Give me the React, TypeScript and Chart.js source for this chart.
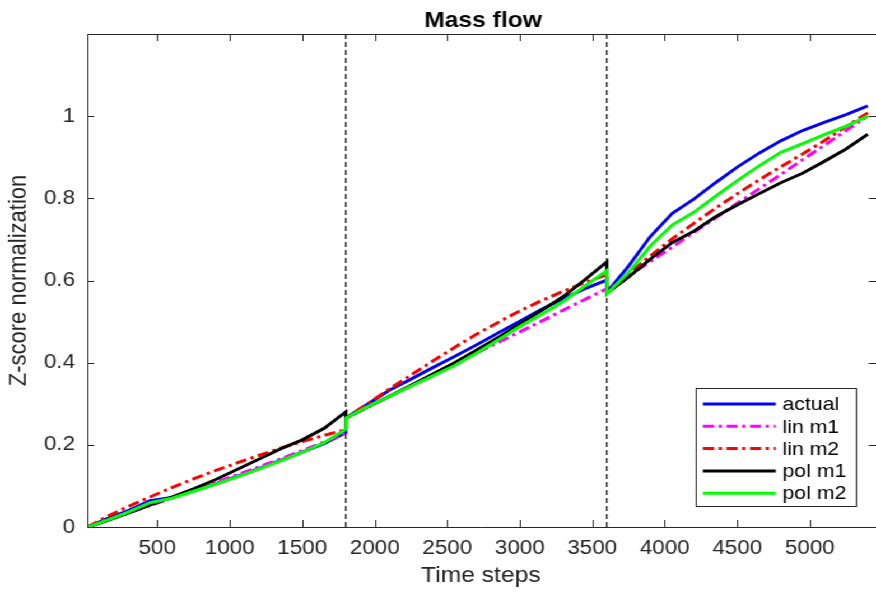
import React, { useEffect, useRef } from "react";
import { Chart, registerables } from "chart.js";

Chart.register(...registerables);

// ---- data ----
const timeSteps = [
  20, 150, 300, 450, 600, 750, 900, 1050, 1200, 1350, 1500, 1650, 1800,
  1800, 1950, 2100, 2250, 2400, 2550, 2700, 2850, 3000, 3150, 3300, 3450, 3600,
  3600, 3750, 3900, 4050, 4200, 4350, 4500, 4650, 4800, 4950, 5100, 5250, 5400,
];

const actual = [
  0, 0.02, 0.04, 0.064, 0.072, 0.088, 0.105, 0.123, 0.142, 0.162, 0.182, 0.203, 0.23,
  0.265, 0.299, 0.333, 0.36, 0.388, 0.415, 0.443, 0.472, 0.501, 0.53, 0.556, 0.58, 0.601,
  0.571, 0.635, 0.707, 0.763, 0.798, 0.838, 0.876, 0.91, 0.94, 0.965, 0.985, 1.004, 1.025,
];

const linM1 = [
  0, 0.016, 0.034, 0.052, 0.07, 0.089, 0.108, 0.127, 0.146, 0.166, 0.186, 0.207, 0.228,
  0.265, 0.291, 0.318, 0.344, 0.37, 0.396, 0.423, 0.449, 0.475, 0.501, 0.528, 0.554, 0.58,
  0.575, 0.61, 0.646, 0.681, 0.717, 0.752, 0.788, 0.823, 0.858, 0.894, 0.929, 0.965, 1.0,
];

const linM2 = [
  0, 0.025, 0.05, 0.073, 0.096, 0.117, 0.137, 0.156, 0.174, 0.192, 0.208, 0.223, 0.237,
  0.265, 0.3, 0.336, 0.37, 0.404, 0.437, 0.469, 0.498, 0.526, 0.551, 0.574, 0.595, 0.614,
  0.57, 0.616, 0.66, 0.701, 0.739, 0.776, 0.811, 0.845, 0.877, 0.908, 0.94, 0.975, 1.008,
];

const polM1 = [
  0, 0.015, 0.034, 0.053, 0.073, 0.093, 0.115, 0.14, 0.165, 0.19, 0.212, 0.24, 0.28,
  0.265, 0.292, 0.318, 0.345, 0.372, 0.4, 0.43, 0.461, 0.495, 0.527, 0.561, 0.602, 0.645,
  0.569, 0.608, 0.652, 0.692, 0.72, 0.755, 0.784, 0.811, 0.838, 0.861, 0.89, 0.92, 0.956,
];

const polM2 = [
  0, 0.016, 0.036, 0.059, 0.07, 0.087, 0.104, 0.122, 0.141, 0.161, 0.182, 0.205, 0.238,
  0.265, 0.293, 0.318, 0.343, 0.368, 0.393, 0.423, 0.455, 0.488, 0.518, 0.549, 0.587, 0.624,
  0.567, 0.62, 0.684, 0.735, 0.766, 0.805, 0.843, 0.879, 0.912, 0.933, 0.955, 0.976, 1.0,
];

const xTicks = [500, 1000, 1500, 2000, 2500, 3000, 3500, 4000, 4500, 5000];
const yTicks = [0, 0.2, 0.4, 0.6, 0.8, 1];
const breakSteps = [1800, 3600];

const FONT = '"Liberation Sans", Arial, Helvetica, sans-serif';
const INNER_W = 782;
const STRETCH = 876 / INNER_W;
const AXIS_COLOR = "#262626";

const framePlugin = {
  id: "matlabFrame",
  afterDatasetsDraw(chart: any) {
    const { ctx, chartArea, scales } = chart;
    const { left, right, top, bottom } = chartArea;
    const xs = scales.x;
    const ys = scales.y;
    ctx.save();
    ctx.strokeStyle = AXIS_COLOR;
    ctx.lineWidth = 1;
    ctx.setLineDash([]);
    ctx.beginPath();
    ctx.moveTo(left, bottom + 0.5);
    ctx.lineTo(right + 2, bottom + 0.5);
    ctx.moveTo(left, top + 0.5);
    ctx.lineTo(right + 2, top + 0.5);
    ctx.moveTo(left + 0.5, top);
    ctx.lineTo(left + 0.5, bottom + 1);
    for (const v of xTicks) {
      const px = Math.round(xs.getPixelForValue(v)) + 0.5;
      ctx.moveTo(px, bottom);
      ctx.lineTo(px, bottom - 7);
      ctx.moveTo(px, top);
      ctx.lineTo(px, top + 7);
    }
    for (const v of yTicks) {
      const py = Math.round(ys.getPixelForValue(v)) + 0.5;
      ctx.moveTo(left, py);
      ctx.lineTo(left + 6, py);
      ctx.moveTo(right + 2, py);
      ctx.lineTo(right - 5, py);
    }
    ctx.stroke();
    ctx.restore();
  },
};

const textPlugin = {
  id: "matlabTexts",
  afterDraw(chart: any) {
    const { ctx, chartArea } = chart;
    const cx = (chartArea.left + chartArea.right) / 2;
    const cy = (chartArea.top + chartArea.bottom) / 2;
    ctx.save();
    ctx.fillStyle = "#000000";
    ctx.textAlign = "center";
    ctx.textBaseline = "alphabetic";
    ctx.font = `bold 22px ${FONT}`;
    ctx.fillText("Mass flow", cx + 2, 27);
    ctx.fillStyle = AXIS_COLOR;
    ctx.font = `22px ${FONT}`;
    ctx.fillText("Time steps", cx, 582);
    ctx.translate(22.5, cy);
    ctx.rotate(-Math.PI / 2);
    ctx.fillText("Z-score normalization", 0, 0);
    ctx.restore();
  },
};

const legendPlugin = {
  id: "matlabLegend",
  afterDraw(chart: any) {
    const { ctx } = chart;
    const items = chart.data.datasets.filter((d: any) => d.label);
    const boxL = 621;
    const boxR = 764;
    const boxT = 388.5;
    const boxB = 506.5;
    const firstY = 404;
    const step = 22.3;
    ctx.save();
    ctx.fillStyle = "#ffffff";
    ctx.fillRect(boxL, boxT, boxR - boxL, boxB - boxT);
    ctx.strokeStyle = AXIS_COLOR;
    ctx.lineWidth = 1;
    ctx.setLineDash([]);
    ctx.strokeRect(boxL + 0.5, boxT, boxR - boxL, boxB - boxT);
    ctx.font = `19px ${FONT}`;
    ctx.textAlign = "left";
    ctx.textBaseline = "middle";
    items.forEach((d: any, i: number) => {
      const yy = firstY + i * step;
      ctx.beginPath();
      ctx.strokeStyle = d.borderColor;
      ctx.lineWidth = 3;
      ctx.setLineDash(d.borderDash || []);
      ctx.moveTo(627.5, yy);
      ctx.lineTo(692.5, yy);
      ctx.stroke();
      ctx.setLineDash([]);
      ctx.fillStyle = "#000000";
      ctx.fillText(d.label, 698.5, yy + 1);
    });
    ctx.restore();
  },
};

export default function App() {
  const canvasRef = useRef<HTMLCanvasElement | null>(null);

  useEffect(() => {
    const canvas = canvasRef.current;
    if (!canvas) return;
    const toPoints = (arr: number[]) => timeSteps.map((t, i) => ({ x: t, y: arr[i] }));
    const dashDot = [10, 4, 3, 4];
    const line = (label: string, arr: number[], color: string, dash: number[], order: number) => ({
      label,
      data: toPoints(arr),
      borderColor: color,
      backgroundColor: color,
      borderWidth: 3,
      borderDash: dash,
      pointRadius: 0,
      tension: 0,
      fill: false,
      order,
    });
    const vLines = breakSteps.map((b) => ({
      label: "",
      data: [
        { x: b, y: 0 },
        { x: b, y: 1.2 },
      ],
      borderColor: "#000000",
      borderWidth: 1.2,
      borderDash: [5, 3],
      pointRadius: 0,
      fill: false,
      order: 10,
    }));

    const chart = new Chart(canvas, {
      type: "line",
      data: {
        datasets: [
          line("actual", actual, "#0000ff", [], 4),
          line("lin m1", linM1, "#ff00ff", dashDot, 3),
          line("lin m2", linM2, "#ff0000", dashDot, 2),
          line("pol m1", polM1, "#000000", [], 1),
          line("pol m2", polM2, "#00ff00", [], 0),
          ...vLines,
        ] as any,
      },
      options: {
        animation: false,
        responsive: true,
        maintainAspectRatio: false,
        layout: { padding: { left: 0, right: 0, top: 34, bottom: 0 } },
        plugins: {
          legend: { display: false },
          title: { display: false },
          tooltip: { enabled: false },
        },
        scales: {
          x: {
            type: "linear",
            min: 18,
            max: 5445,
            grid: { display: false, drawTicks: false },
            border: { display: false },
            afterBuildTicks: (scale: any) => {
              scale.ticks = xTicks.map((v) => ({ value: v }));
            },
            afterFit: (scale: any) => {
              scale.height = 65;
            },
            ticks: {
              padding: 9,
              maxRotation: 0,
              autoSkip: false,
              color: AXIS_COLOR,
              font: { family: FONT, size: 20 },
              callback: (v: any) => String(v),
            },
          },
          y: {
            type: "linear",
            min: 0,
            max: 1.2,
            grid: { display: false, drawTicks: false },
            border: { display: false },
            afterBuildTicks: (scale: any) => {
              scale.ticks = yTicks.map((v) => ({ value: v }));
            },
            afterFit: (scale: any) => {
              scale.width = 78;
            },
            ticks: {
              padding: 11,
              autoSkip: false,
              color: AXIS_COLOR,
              font: { family: FONT, size: 20 },
              callback: (v: any) => String(Math.round(Number(v) * 10) / 10),
            },
          },
        },
      },
      plugins: [framePlugin, textPlugin, legendPlugin],
    } as any);

    return () => chart.destroy();
  }, []);

  return (
    <div
      style={{
        position: "absolute",
        left: 0,
        top: 0,
        width: INNER_W,
        height: 592,
        transform: `scaleX(${STRETCH})`,
        transformOrigin: "0 0",
        background: "#ffffff",
      }}
    >
      <canvas ref={canvasRef} />
    </div>
  );
}
